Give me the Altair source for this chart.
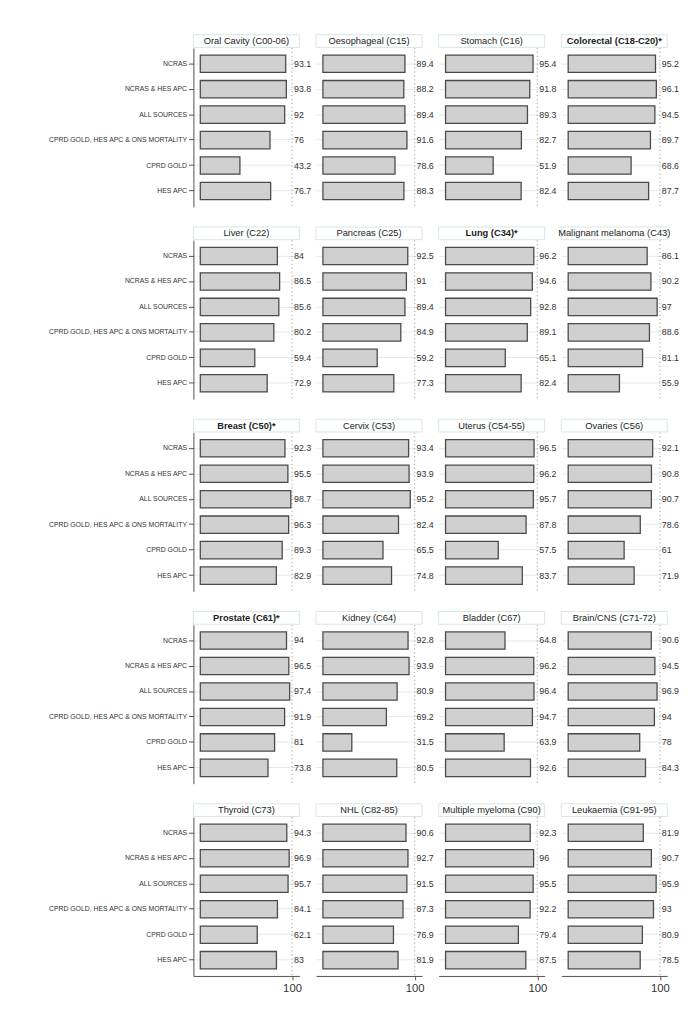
import altair as alt
import pandas as pd

# ---------------- data ----------------
sources = ["NCRAS", "NCRAS & HES APC", "ALL SOURCES",
           "CPRD GOLD, HES APC & ONS MORTALITY", "CPRD GOLD", "HES APC"]

titles = ["Oral Cavity (C00-06)", "Oesophageal (C15)", "Stomach (C16)", "Colorectal (C18-C20)*",
          "Liver (C22)", "Pancreas (C25)", "Lung (C34)*", "Malignant melanoma (C43)",
          "Breast (C50)*", "Cervix (C53)", "Uterus (C54-55)", "Ovaries (C56)",
          "Prostate (C61)*", "Kidney (C64)", "Bladder (C67)", "Brain/CNS (C71-72)",
          "Thyroid (C73)", "NHL (C82-85)", "Multiple myeloma (C90)", "Leukaemia (C91-95)"]
bold_titles = ["Colorectal (C18-C20)*", "Lung (C34)*", "Breast (C50)*", "Prostate (C61)*"]

oral = [93.1, 93.8, 92, 76, 43.2, 76.7]
oesophageal = [89.4, 88.2, 89.4, 91.6, 78.6, 88.3]
stomach = [95.4, 91.8, 89.3, 82.7, 51.9, 82.4]
colorectal = [95.2, 96.1, 94.5, 89.7, 68.6, 87.7]
liver = [84, 86.5, 85.6, 80.2, 59.4, 72.9]
pancreas = [92.5, 91, 89.4, 84.9, 59.2, 77.3]
lung = [96.2, 94.6, 92.8, 89.1, 65.1, 82.4]
melanoma = [86.1, 90.2, 97, 88.6, 81.1, 55.9]
breast = [92.3, 95.5, 98.7, 96.3, 89.3, 82.9]
cervix = [93.4, 93.9, 95.2, 82.4, 65.5, 74.8]
uterus = [96.5, 96.2, 95.7, 87.8, 57.5, 83.7]
ovaries = [92.1, 90.8, 90.7, 78.6, 61, 71.9]
prostate = [94, 96.5, 97.4, 91.9, 81, 73.8]
kidney = [92.8, 93.9, 80.9, 69.2, 31.5, 80.5]
bladder = [64.8, 96.2, 96.4, 94.7, 63.9, 92.6]
brain = [90.6, 94.5, 96.9, 94, 78, 84.3]
thyroid = [94.3, 96.9, 95.7, 84.1, 62.1, 83]
nhl = [90.6, 92.7, 91.5, 87.3, 76.9, 81.9]
myeloma = [92.3, 96, 95.5, 92.2, 79.4, 87.5]
leukaemia = [81.9, 90.7, 95.9, 93, 80.9, 78.5]

all_values = [oral, oesophageal, stomach, colorectal,
              liver, pancreas, lung, melanoma,
              breast, cervix, uterus, ovaries,
              prostate, kidney, bladder, brain,
              thyroid, nhl, myeloma, leukaemia]

ref_value = [100]

# ---------------- style ----------------
W, H = 108, 162
GRID = "#e0ebeb"
BOX = "#d8e6e6"
AXC = "#505050"
TXT = "#333333"

xscale = alt.Scale(domain=[-7.5, 108], nice=False, zero=False)
yscale = alt.Scale(domain=sources, paddingInner=0.32, paddingOuter=0.28)


def panel(i, title, vals):
    r, c = divmod(i, 4)
    df = pd.DataFrame({"source": sources, "value": vals,
                       "label": [f"{v:g}" for v in vals]})
    tdf = pd.DataFrame({"title": [title], "ref": ref_value})

    if c == 0:
        yaxis = alt.Axis(title=None, labelFontSize=7, labelColor=TXT, labelPadding=2,
                         tickSize=5, tickColor=AXC, domainColor=AXC, domainWidth=1,
                         grid=True, gridColor=GRID, bandPosition=0.5, labelLimit=300)
    else:
        yaxis = alt.Axis(title=None, labels=False, ticks=False, domain=False,
                         grid=True, gridColor=GRID, bandPosition=0.5)
    if r == 4:
        xaxis = alt.Axis(values=[100], title=None, labelFontSize=11.5, labelColor=TXT,
                         tickSize=4, tickColor=AXC, domainColor=AXC, grid=False,
                         labelPadding=3)
    else:
        xaxis = None

    y = alt.Y("source:N", sort=sources, scale=yscale, axis=yaxis)

    bars = alt.Chart(df).mark_bar(fill="#d0d0d0", stroke="#4a4a4a", strokeWidth=1.3).encode(
        x=alt.X("value:Q", scale=xscale, axis=xaxis),
        x2=alt.datum(0),
        y=y,
    )
    rule = alt.Chart(tdf).mark_rule(color="#9a9a9a", strokeDash=[1.2, 2.8], strokeWidth=1).encode(
        x=alt.X("ref:Q", scale=xscale, axis=xaxis),
    )
    text = alt.Chart(df).mark_text(align="left", baseline="middle", dx=2, fontSize=9,
                                   color=TXT).encode(
        x=alt.X("ref_x:Q", scale=xscale, axis=xaxis),
        y=y,
        text="label:N",
    ).transform_calculate(ref_x=str(ref_value[0]))
    box = alt.Chart(tdf).mark_rect(fill="white", stroke=BOX, strokeWidth=1).encode(
        x=alt.value(0), x2=alt.value(W), y=alt.value(-13.5), y2=alt.value(-0.5)
    )
    ttl = alt.Chart(tdf).mark_text(fontSize=9.5, color="#222222", baseline="middle",
                                   fontWeight="bold" if title in bold_titles else "normal").encode(
        x=alt.value(W / 2), y=alt.value(-7), text="title:N"
    )
    return alt.layer(rule, bars, text, box, ttl).properties(width=W, height=H)


panels = [panel(i, t, v) for i, (t, v) in enumerate(zip(titles, all_values))]

chart = alt.concat(*panels, columns=4, spacing={"row": 34, "column": 17},
                   bounds="flush").properties(
    padding={"left": 40, "top": 17, "right": 0, "bottom": 5}
).configure(font="Liberation Sans").configure_view(stroke=None)

chart.save("out.html", embed_options={"renderer": "svg", "actions": False})
